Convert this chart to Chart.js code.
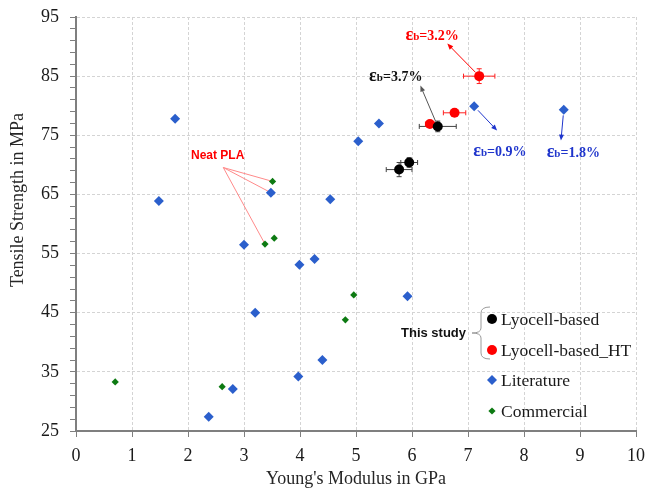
<!DOCTYPE html>
<html>
<head>
<meta charset="utf-8">
<script src="https://cdn.jsdelivr.net/npm/chart.js@4/dist/chart.umd.min.js"></script>
<style>
  html, body { margin: 0; padding: 0; background: #fff; }
</style>
</head>
<body>
<canvas id="scatter-chart" width="649" height="498"></canvas>
<script>
// this study: lyocell-based composites (modulus GPa, strength MPa, +/- errors)
const lyocellModulus = [5.77, 5.95, 6.46];
const lyocellStrength = [69.2, 70.4, 76.5];
const lyocellModErr = [0.23, 0.15, 0.33];
const lyocellStrErr = [1.2, 0.8, 0.9];

// this study: heat treated
const lyocellHtModulus = [6.32, 6.76, 7.20];
const lyocellHtStrength = [76.9, 78.8, 85.0];
const lyocellHtModErr = [0.08, 0.2, 0.28];
const lyocellHtStrErr = [0.4, 0.5, 1.25];

// values from literature
const litModulus = [1.48, 1.77, 2.37, 2.80, 3.00, 3.20, 3.48, 3.97, 3.99, 4.26, 4.40, 4.54, 5.04, 5.41, 5.92, 7.11, 8.71];
const litStrength = [63.9, 77.8, 27.4, 32.1, 56.5, 45.0, 65.3, 34.2, 53.1, 54.1, 37.0, 64.2, 74.0, 77.0, 47.8, 79.9, 79.3];

// commercial filaments
const comModulus = [0.70, 2.61, 3.375, 3.51, 3.54, 4.81, 4.96];
const comStrength = [33.3, 32.5, 56.6, 67.2, 57.6, 43.8, 48.0];

// elongation at break (%) quoted next to some points
const strainAtBreak = [3.2, 3.7, 0.9, 1.8];

const xTicks = [0, 1, 2, 3, 4, 5, 6, 7, 8, 9, 10];
const yTicks = [25, 35, 45, 55, 65, 75, 85, 95];

const serif = '"Liberation Serif", "Times New Roman", serif';
const sans = '"Liberation Sans", Arial, sans-serif';

function pts(xs, ys) {
  return xs.map((x, i) => ({ x: x, y: ys[i] }));
}

// which point each strain label points at, and where the arrow/label sit
const strainNotes = [
  { ds: 1, i: 2, strain: 0, tip: [6.63, 90.5], label: [6.36, 92.0], color: '#ff0000' },
  { ds: 0, i: 2, strain: 1, tip: [6.15, 83.4], label: [5.71, 85.0], color: '#111111', line: '#555555' },
  { ds: 2, i: 15, strain: 2, tip: [7.52, 75.8], label: [7.57, 72.3], color: '#1f35cc' },
  { ds: 2, i: 16, strain: 3, tip: [8.66, 74.1], label: [8.88, 72.2], color: '#1f35cc' }
];
// "Neat PLA" callout: [dataset, index] of the neat PLA points
const neatPla = { label: [2.53, 71.6], hub: [2.63, 69.55], targets: [[3, 3], [2, 6], [3, 2]] };

const errorBars = {
  0: { dx: lyocellModErr, dy: lyocellStrErr, color: '#404040' },
  1: { dx: lyocellHtModErr, dy: lyocellHtStrErr, color: '#ff2020' }
};

function drawStrainText(ctx, cx, cy, value, color) {
  const parts = [
    { s: '\u03b5', f: 'bold 18px ' + serif },
    { s: 'b', f: 'bold 11px ' + serif },
    { s: '=' + value.toFixed(1) + '%', f: 'bold 14px ' + serif }
  ];
  let w = 0;
  parts.forEach(p => { ctx.font = p.f; p.w = ctx.measureText(p.s).width; w += p.w; });
  let x = cx - w / 2;
  ctx.fillStyle = color;
  ctx.textBaseline = 'alphabetic';
  ctx.textAlign = 'left';
  parts.forEach(p => { ctx.font = p.f; ctx.fillText(p.s, x, cy + 5); x += p.w; });
}

function arrow(ctx, x1, y1, x2, y2, color, skip) {
  const a = Math.atan2(y2 - y1, x2 - x1);
  const sx = x1 + Math.cos(a) * skip, sy = y1 + Math.sin(a) * skip;
  ctx.strokeStyle = color;
  ctx.fillStyle = color;
  ctx.lineWidth = 1;
  ctx.beginPath();
  ctx.moveTo(sx, sy);
  ctx.lineTo(x2 - Math.cos(a) * 4, y2 - Math.sin(a) * 4);
  ctx.stroke();
  ctx.beginPath();
  ctx.moveTo(x2, y2);
  ctx.lineTo(x2 - Math.cos(a) * 6 + Math.sin(a) * 2.5, y2 - Math.sin(a) * 6 - Math.cos(a) * 2.5);
  ctx.lineTo(x2 - Math.cos(a) * 6 - Math.sin(a) * 2.5, y2 - Math.sin(a) * 6 + Math.cos(a) * 2.5);
  ctx.closePath();
  ctx.fill();
}

const extrasPlugin = {
  id: 'extras',
  beforeDatasetsDraw(chart) {
    const ctx = chart.ctx, xs = chart.scales.x, ys = chart.scales.y;
    ctx.save();
    // error bars
    Object.keys(errorBars).forEach(k => {
      const e = errorBars[k];
      chart.data.datasets[k].data.forEach((p, i) => {
        const px = xs.getPixelForValue(p.x), py = ys.getPixelForValue(p.y);
        const x0 = xs.getPixelForValue(p.x - e.dx[i]), x1 = xs.getPixelForValue(p.x + e.dx[i]);
        const y0 = ys.getPixelForValue(p.y - e.dy[i]), y1 = ys.getPixelForValue(p.y + e.dy[i]);
        ctx.strokeStyle = e.color;
        ctx.lineWidth = 1;
        ctx.beginPath();
        ctx.moveTo(x0, py); ctx.lineTo(x1, py);
        ctx.moveTo(x0, py - 2.5); ctx.lineTo(x0, py + 2.5);
        ctx.moveTo(x1, py - 2.5); ctx.lineTo(x1, py + 2.5);
        ctx.moveTo(px, y0); ctx.lineTo(px, y1);
        ctx.moveTo(px - 2.5, y0); ctx.lineTo(px + 2.5, y0);
        ctx.moveTo(px - 2.5, y1); ctx.lineTo(px + 2.5, y1);
        ctx.stroke();
      });
    });
    // neat PLA callout lines
    const hx = xs.getPixelForValue(neatPla.hub[0]), hy = ys.getPixelForValue(neatPla.hub[1]);
    ctx.strokeStyle = '#ff8a8a';
    ctx.lineWidth = 1;
    neatPla.targets.forEach(t => {
      const p = chart.data.datasets[t[0]].data[t[1]];
      ctx.beginPath();
      ctx.moveTo(hx, hy);
      ctx.lineTo(xs.getPixelForValue(p.x), ys.getPixelForValue(p.y));
      ctx.stroke();
    });
    ctx.restore();
  },
  afterDatasetsDraw(chart) {
    const ctx = chart.ctx, xs = chart.scales.x, ys = chart.scales.y;
    ctx.save();
    strainNotes.forEach(n => {
      const p = chart.data.datasets[n.ds].data[n.i];
      arrow(ctx, xs.getPixelForValue(p.x), ys.getPixelForValue(p.y),
        xs.getPixelForValue(n.tip[0]), ys.getPixelForValue(n.tip[1]), n.line || n.color, 5.5);
      drawStrainText(ctx, xs.getPixelForValue(n.label[0]), ys.getPixelForValue(n.label[1]),
        strainAtBreak[n.strain], n.color);
    });
    ctx.fillStyle = '#ff0000';
    ctx.font = 'bold 12px ' + sans;
    ctx.textAlign = 'center';
    ctx.textBaseline = 'middle';
    ctx.fillText('Neat PLA', xs.getPixelForValue(neatPla.label[0]), ys.getPixelForValue(neatPla.label[1]));

    // y axis title
    ctx.save();
    ctx.translate(18, (chart.chartArea.top + chart.chartArea.bottom) / 2 - 24);
    ctx.rotate(-Math.PI / 2);
    ctx.fillStyle = '#262626';
    ctx.font = '18px ' + serif;
    ctx.textAlign = 'center';
    ctx.textBaseline = 'middle';
    ctx.fillText('Tensile Strength in MPa', 0, 0);
    ctx.restore();

    // legend with "This study" bracket
    const mx = 492, tx = 501, rows = [319, 350, 380, 411];
    chart.data.datasets.forEach((ds, i) => {
      ctx.fillStyle = ds.backgroundColor;
      Chart.helpers.drawPoint(ctx, { pointStyle: ds.pointStyle, radius: ds.pointRadius, borderWidth: 0, rotation: 0 }, mx, rows[i]);
      ctx.fillStyle = '#1a1a1a';
      ctx.font = '17.5px ' + serif;
      ctx.textAlign = 'left';
      ctx.textBaseline = 'middle';
      ctx.fillText(ds.label, tx, rows[i] + 1);
    });
    ctx.strokeStyle = '#9a9a9a';
    ctx.lineWidth = 1;
    ctx.beginPath();
    ctx.moveTo(490, 307);
    ctx.quadraticCurveTo(481, 307, 481, 313);
    ctx.lineTo(481, 328);
    ctx.quadraticCurveTo(481, 333, 472, 333);
    ctx.quadraticCurveTo(481, 333, 481, 338);
    ctx.lineTo(481, 353);
    ctx.quadraticCurveTo(481, 359, 490, 359);
    ctx.stroke();
    ctx.fillStyle = '#111';
    ctx.font = 'bold 13px ' + sans;
    ctx.textAlign = 'right';
    ctx.textBaseline = 'middle';
    ctx.fillText('This study', 466, 333);
    ctx.restore();
  }
};

new Chart(document.getElementById('scatter-chart'), {
  type: 'scatter',
  data: {
    datasets: [
      { label: 'Lyocell-based', data: pts(lyocellModulus, lyocellStrength), backgroundColor: '#000000',
        borderWidth: 0, pointStyle: 'circle', pointRadius: 5 },
      { label: 'Lyocell-based_HT', data: pts(lyocellHtModulus, lyocellHtStrength), backgroundColor: '#ff0000',
        borderWidth: 0, pointStyle: 'circle', pointRadius: 5 },
      { label: 'Literature', data: pts(litModulus, litStrength), backgroundColor: '#2b5fcc',
        borderWidth: 0, pointStyle: 'rectRot', pointRadius: 5 },
      { label: 'Commercial', data: pts(comModulus, comStrength), backgroundColor: '#0d7a12',
        borderWidth: 0, pointStyle: 'rectRot', pointRadius: 3.6 }
    ]
  },
  options: {
    responsive: false,
    animation: false,
    devicePixelRatio: 1,
    layout: { padding: { top: 17, right: 13, bottom: 0, left: 0 } },
    plugins: { legend: { display: false }, tooltip: { enabled: false } },
    scales: {
      x: {
        type: 'linear', min: 0, max: 10,
        afterBuildTicks: s => { s.ticks = xTicks.map(v => ({ value: v })); },
        afterFit: s => { s.height = 67; s.paddingRight = 0; },
        grid: { color: '#d4d4d4', tickColor: '#7f7f7f', tickLength: 6 },
        border: { color: '#7f7f7f', width: 2, dash: [3, 2] },
        ticks: { font: { family: serif, size: 18 }, color: '#1a1a1a', padding: 8, maxRotation: 0 },
        title: { display: true, text: "Young's Modulus in GPa", font: { family: serif, size: 18 },
          color: '#262626', padding: { top: 0, bottom: 8 } }
      },
      y: {
        type: 'linear', min: 25, max: 95,
        afterFit: s => { s.width = 76; s.paddingTop = 0; },
        grid: {
          color: c => yTicks.includes(c.tick.value) ? '#d4d4d4' : 'rgba(0,0,0,0)',
          tickColor: '#7f7f7f', tickLength: 6
        },
        border: { color: '#7f7f7f', width: 2, dash: [3, 2] },
        ticks: {
          stepSize: 2, autoSkip: false, padding: 11,
          font: { family: serif, size: 18 }, color: '#1a1a1a',
          callback: v => yTicks.includes(v) ? v : ''
        }
      }
    }
  },
  plugins: [extrasPlugin]
});
</script>
</body>
</html>
